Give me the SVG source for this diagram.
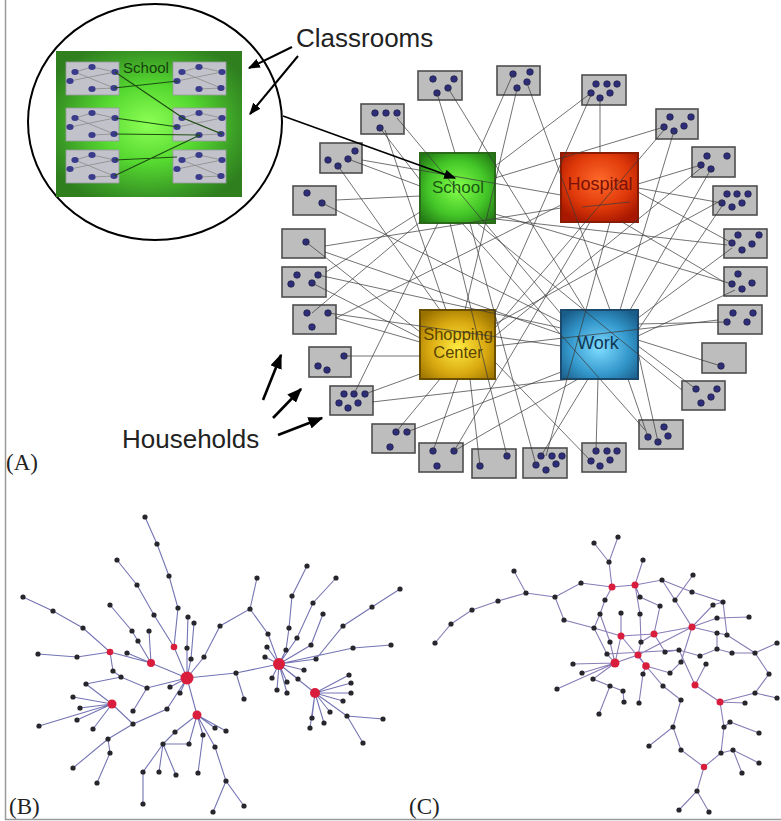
<svg xmlns="http://www.w3.org/2000/svg" xmlns:xlink="http://www.w3.org/1999/xlink" width="781" height="821" viewBox="0 0 781 821">
<defs>
<style>
.hh{fill:#bdbdbd;stroke:#4e4e4e;stroke-width:1.6}
.d{fill:#2d2d78;stroke:#15153a;stroke-width:.6}
.cn{stroke:#3a3a3a;stroke-width:.9;fill:none;opacity:.8}
.cl{fill:#c2c2ca;stroke:#9a9aa2;stroke-width:.8}
.cd{fill:#3b3b8c}
.ci{stroke:#8c8c8c;stroke-width:.8;fill:none}
.cg{stroke:#1d4f12;stroke-width:1.2;fill:none}
.lbl{font-family:"Liberation Sans",Arial,sans-serif}
.pl{font-family:"Liberation Serif","Times New Roman",serif;font-size:23px;fill:#222}
.eb{stroke:#7474b4;stroke-width:1.1;fill:none}
.ec{stroke:#8a7cb6;stroke-width:1.1;fill:none}
.nb circle{fill:#26262c;r:2.6px}
.nr{fill:#d81e3c}
.ar{stroke:#000;fill:none}
</style>
<radialGradient id="gIn" cx="0.5" cy="0.5" r="0.6">
<stop offset="0" stop-color="#8dff55"/><stop offset="0.45" stop-color="#55d830"/><stop offset="0.8" stop-color="#3a9a25"/><stop offset="1" stop-color="#2f7f1f"/>
</radialGradient>
<radialGradient id="gSc" cx="0.5" cy="0.5" r="0.65">
<stop offset="0" stop-color="#84ff4a"/><stop offset="0.6" stop-color="#44c628"/><stop offset="1" stop-color="#237a14"/>
</radialGradient>
<radialGradient id="gHo" cx="0.5" cy="0.4" r="0.65">
<stop offset="0" stop-color="#ff6a2a"/><stop offset="0.6" stop-color="#e03a0a"/><stop offset="1" stop-color="#a81800"/>
</radialGradient>
<radialGradient id="gSh" cx="0.5" cy="0.55" r="0.65">
<stop offset="0" stop-color="#ffea40"/><stop offset="0.6" stop-color="#d8a810"/><stop offset="1" stop-color="#9a7200"/>
</radialGradient>
<radialGradient id="gWo" cx="0.5" cy="0.55" r="0.65">
<stop offset="0" stop-color="#80dcff"/><stop offset="0.6" stop-color="#3498cc"/><stop offset="1" stop-color="#1a5f8c"/>
</radialGradient>
<marker id="ah" viewBox="0 0 10 8" refX="9" refY="4" markerWidth="12" markerHeight="10" markerUnits="userSpaceOnUse" orient="auto">
<path d="M0 0 L10 4 L0 8 z" fill="#000"/>
</marker>
<marker id="ah2" viewBox="0 0 10 8" refX="9" refY="4" markerWidth="15" markerHeight="12" markerUnits="userSpaceOnUse" orient="auto">
<path d="M0 0 L10 4 L0 8 z" fill="#000"/>
</marker>
<g id="cls">
<rect class="cl" width="53" height="33"/>
<path class="ci" d="M9 10 L26 5 M9 10 L48 26 M4 19 L49 10 M26 27 L48 26 M26 5 L49 10"/>
<ellipse class="cd" cx="9" cy="10" rx="3.6" ry="2.9"/><ellipse class="cd" cx="26" cy="5" rx="3.6" ry="2.9"/><ellipse class="cd" cx="49" cy="10" rx="3.6" ry="2.9"/>
<ellipse class="cd" cx="4" cy="19" rx="3.6" ry="2.9"/><ellipse class="cd" cx="26" cy="27" rx="3.6" ry="2.9"/><ellipse class="cd" cx="48" cy="26" rx="3.6" ry="2.9"/>
</g>
</defs>
<rect width="781" height="821" fill="#fff"/>
<path d="M5.5 0 V819.5 H781" stroke="#9a9a9a" stroke-width="1.5" fill="none"/>

<!-- Inset -->
<g id="inset">
<ellipse cx="155" cy="122" rx="127" ry="118" fill="#fff" stroke="#000" stroke-width="2"/>
<rect x="56" y="51" width="186" height="146" fill="url(#gIn)"/>
<use xlink:href="#cls" x="66" y="62"/>
<use xlink:href="#cls" x="173" y="62"/>
<use xlink:href="#cls" x="66" y="108"/>
<use xlink:href="#cls" x="173" y="108"/>
<use xlink:href="#cls" x="66" y="150"/>
<use xlink:href="#cls" x="173" y="150"/>
<path class="cg" d="M115 72 L183 118 M114 88 L178 81 M115 118 L178 127 M115 134 L200 135 M115 160 L177 157 M114 176 L200 135 M183 118 L222 134"/>
<text class="lbl" x="146" y="73" font-size="15" fill="#163f0c" text-anchor="middle">School</text>
</g>

<!-- Households -->
<g id="h1"><rect class="hh" x="418" y="71" width="44" height="29"/><circle class="d" cx="433" cy="79" r="3.3"/><circle class="d" cx="454" cy="79" r="3.3"/><circle class="d" cx="448" cy="88" r="3.3"/><circle class="d" cx="437" cy="93" r="3.3"/></g>
<g id="h2"><rect class="hh" x="497" y="66" width="43" height="29"/><circle class="d" cx="513" cy="74" r="3.3"/><circle class="d" cx="530" cy="72" r="3.3"/><circle class="d" cx="527" cy="82" r="3.3"/><circle class="d" cx="517" cy="88" r="3.3"/></g>
<g id="h3"><rect class="hh" x="582" y="75" width="44" height="30"/><circle class="d" cx="596" cy="84" r="3.3"/><circle class="d" cx="607" cy="84" r="3.3"/><circle class="d" cx="617" cy="84" r="3.3"/><circle class="d" cx="591" cy="93" r="3.3"/><circle class="d" cx="600" cy="98" r="3.3"/><circle class="d" cx="610" cy="93" r="3.3"/></g>
<g id="h4"><rect class="hh" x="656" y="109" width="42" height="30"/><circle class="d" cx="670" cy="117" r="3.3"/><circle class="d" cx="691" cy="117" r="3.3"/><circle class="d" cx="664" cy="127" r="3.3"/><circle class="d" cx="674" cy="131" r="3.3"/><circle class="d" cx="684" cy="126" r="3.3"/></g>
<g id="h5"><rect class="hh" x="692" y="147" width="43" height="30"/><circle class="d" cx="707" cy="156" r="3.3"/><circle class="d" cx="727" cy="156" r="3.3"/><circle class="d" cx="701" cy="165" r="3.3"/><circle class="d" cx="711" cy="169" r="3.3"/></g>
<g id="h6"><rect class="hh" x="713" y="186" width="44" height="29"/><circle class="d" cx="727" cy="194" r="3.3"/><circle class="d" cx="737" cy="194" r="3.3"/><circle class="d" cx="748" cy="194" r="3.3"/><circle class="d" cx="722" cy="203" r="3.3"/><circle class="d" cx="732" cy="207" r="3.3"/><circle class="d" cx="742" cy="203" r="3.3"/></g>
<g id="h7"><rect class="hh" x="724" y="229" width="43" height="29"/><circle class="d" cx="738" cy="235" r="3.3"/><circle class="d" cx="759" cy="235" r="3.3"/><circle class="d" cx="732" cy="243" r="3.3"/><circle class="d" cx="742" cy="250" r="3.3"/><circle class="d" cx="752" cy="244" r="3.3"/></g>
<g id="h8"><rect class="hh" x="724" y="267" width="43" height="29"/><circle class="d" cx="738" cy="274" r="3.3"/><circle class="d" cx="732" cy="284" r="3.3"/><circle class="d" cx="742" cy="289" r="3.3"/><circle class="d" cx="752" cy="283" r="3.3"/></g>
<g id="h9"><rect class="hh" x="718" y="305" width="44" height="29"/><circle class="d" cx="733" cy="313" r="3.3"/><circle class="d" cx="753" cy="313" r="3.3"/><circle class="d" cx="727" cy="322" r="3.3"/><circle class="d" cx="747" cy="322" r="3.3"/></g>
<g id="h10"><rect class="hh" x="702" y="343" width="44" height="30"/><circle class="d" cx="721" cy="366" r="3.3"/></g>
<g id="h11"><rect class="hh" x="682" y="381" width="43" height="29"/><circle class="d" cx="696" cy="389" r="3.3"/><circle class="d" cx="717" cy="389" r="3.3"/><circle class="d" cx="711" cy="397" r="3.3"/><circle class="d" cx="701" cy="403" r="3.3"/></g>
<g id="h12"><rect class="hh" x="639" y="420" width="44" height="29"/><circle class="d" cx="664" cy="427" r="3.3"/><circle class="d" cx="668" cy="436" r="3.3"/><circle class="d" cx="658" cy="442" r="3.3"/><circle class="d" cx="648" cy="437" r="3.3"/></g>
<g id="h13"><rect class="hh" x="582" y="443" width="44" height="29"/><circle class="d" cx="596" cy="451" r="3.3"/><circle class="d" cx="607" cy="451" r="3.3"/><circle class="d" cx="617" cy="451" r="3.3"/><circle class="d" cx="591" cy="461" r="3.3"/><circle class="d" cx="600" cy="466" r="3.3"/><circle class="d" cx="610" cy="460" r="3.3"/></g>
<g id="h14"><rect class="hh" x="523" y="448" width="44" height="30"/><circle class="d" cx="541" cy="456" r="3.3"/><circle class="d" cx="552" cy="456" r="3.3"/><circle class="d" cx="562" cy="456" r="3.3"/><circle class="d" cx="536" cy="465" r="3.3"/><circle class="d" cx="546" cy="470" r="3.3"/><circle class="d" cx="556" cy="464" r="3.3"/></g>
<g id="h15"><rect class="hh" x="472" y="449" width="44" height="29"/><circle class="d" cx="507" cy="456" r="3.3"/><circle class="d" cx="480" cy="466" r="3.3"/></g>
<g id="h16"><rect class="hh" x="419" y="443" width="44" height="29"/><circle class="d" cx="433" cy="451" r="3.3"/><circle class="d" cx="454" cy="451" r="3.3"/><circle class="d" cx="437" cy="466" r="3.3"/></g>
<g id="h17"><rect class="hh" x="372" y="424" width="43" height="29"/><circle class="d" cx="396" cy="432" r="3.3"/><circle class="d" cx="407" cy="432" r="3.3"/><circle class="d" cx="390" cy="447" r="3.3"/></g>
<g id="h18"><rect class="hh" x="330" y="386" width="43" height="29"/><circle class="d" cx="344" cy="394" r="3.3"/><circle class="d" cx="354" cy="394" r="3.3"/><circle class="d" cx="365" cy="394" r="3.3"/><circle class="d" cx="339" cy="403" r="3.3"/><circle class="d" cx="348" cy="408" r="3.3"/><circle class="d" cx="358" cy="403" r="3.3"/></g>
<g id="h19"><rect class="hh" x="309" y="347" width="42" height="30"/><circle class="d" cx="344" cy="356" r="3.3"/><circle class="d" cx="318" cy="366" r="3.3"/><circle class="d" cx="327" cy="370" r="3.3"/></g>
<g id="h20"><rect class="hh" x="293" y="305" width="43" height="29"/><circle class="d" cx="307" cy="313" r="3.3"/><circle class="d" cx="328" cy="313" r="3.3"/><circle class="d" cx="312" cy="327" r="3.3"/></g>
<g id="h21"><rect class="hh" x="282" y="267" width="44" height="30"/><circle class="d" cx="297" cy="275" r="3.3"/><circle class="d" cx="318" cy="275" r="3.3"/><circle class="d" cx="291" cy="284" r="3.3"/><circle class="d" cx="312" cy="283" r="3.3"/></g>
<g id="h22"><rect class="hh" x="282" y="229" width="43" height="29"/><circle class="d" cx="306" cy="242" r="3.3"/></g>
<g id="h23"><rect class="hh" x="293" y="186" width="43" height="29"/><circle class="d" cx="307" cy="193" r="3.3"/><circle class="d" cx="322" cy="203" r="3.3"/></g>
<g id="h24"><rect class="hh" x="320" y="143" width="42" height="30"/><circle class="d" cx="355" cy="151" r="3.3"/><circle class="d" cx="348" cy="159" r="3.3"/><circle class="d" cx="338" cy="166" r="3.3"/><circle class="d" cx="328" cy="160" r="3.3"/></g>
<g id="h25"><rect class="hh" x="361" y="104" width="43" height="30"/><circle class="d" cx="375" cy="113" r="3.3"/><circle class="d" cx="386" cy="113" r="3.3"/><circle class="d" cx="397" cy="113" r="3.3"/><circle class="d" cx="380" cy="128" r="3.3"/></g>

<!-- Facilities -->
<g id="school"><rect x="420" y="153" width="75" height="70" fill="url(#gSc)" stroke="#2a6a1a" stroke-width="2"/><text class="lbl" x="458" y="193" font-size="17" fill="#1a5a12" text-anchor="middle">School</text></g>
<g id="hospital"><rect x="561" y="153" width="77" height="69" fill="url(#gHo)" stroke="#8a1a00" stroke-width="2"/><text class="lbl" x="600" y="190" font-size="18" fill="#7a1208" text-anchor="middle">Hospital</text></g>
<g id="shopping"><rect x="420" y="310" width="75" height="69" fill="url(#gSh)" stroke="#6a5000" stroke-width="2"/><text class="lbl" x="458" y="340" font-size="16.5" fill="#5a4400" text-anchor="middle">Shopping</text><text class="lbl" x="458" y="358" font-size="16.5" fill="#5a4400" text-anchor="middle">Center</text></g>
<g id="work"><rect x="561" y="310" width="77" height="69" fill="url(#gWo)" stroke="#1a4a70" stroke-width="2"/><text class="lbl" x="598" y="349" font-size="18" fill="#0f3652" text-anchor="middle">Work</text></g>

<!-- Connectors -->
<g id="connectors">
<path class="cn" d="M437 93 L455 153 M448 88 L585 310 M517 89 L465 310 M527 83 L610 310 M513 74 L478 153 M600 98 L600 153 M591 93 L495 166 M591 95 L495 313 M664 127 L495 178 M674 131 L620 310 M664 130 L495 328 M701 165 L638 184 M711 169 L630 310 M701 168 L495 336 M722 203 L638 188 M722 206 L638 330 M732 243 L638 192 M727 245 L495 219 M732 284 L495 214 M724 282 L622 222 M727 322 L638 324 M718 320 L495 346 M721 366 L638 340 M696 389 L638 346 M682 390 L477 223 M648 437 L628 379 M658 442 L638 352 M645 430 L462 223 M596 451 L598 379 M591 461 L495 362 M541 456 L588 379 M536 465 L470 223 M546 456 L610 222 M480 466 L470 379 M507 456 L450 223 M433 451 L458 379 M454 451 L578 379 M396 432 L440 379 M407 432 L561 372 M365 394 L420 374 M354 394 L438 223 M372 402 L572 379 M344 356 L420 356 M336 318 L420 342 M328 313 L561 346 M312 313 L420 222 M312 283 L420 338 M318 275 L561 328 M326 272 L420 212 M306 242 L420 332 M325 246 L561 208 M325 252 L561 334 M322 203 L561 322 M336 200 L420 196 M348 159 L420 186 M338 166 L440 310 M380 128 L420 180 M385 130 L446 310 M397 118 L561 314 M722 200 L495 324 M732 248 L638 318 M735 290 L638 336 M561 195 L362 160 M561 205 L336 318 M590 222 L454 451 M582 207 L630 202"/>
</g>

<!-- Annotation arrows and labels -->
<g id="annotations">
<path class="ar" stroke-width="1.6" d="M283 116 L455 178" marker-end="url(#ah)"/>
<path class="ar" stroke-width="2" d="M292 47 L249 68" marker-end="url(#ah)"/>
<path class="ar" stroke-width="2" d="M298 56 L250 114" marker-end="url(#ah)"/>
<path class="ar" stroke-width="2.6" d="M263 400 L281 355" marker-end="url(#ah2)"/>
<path class="ar" stroke-width="2.6" d="M273 418 L301 389" marker-end="url(#ah2)"/>
<path class="ar" stroke-width="2.6" d="M278 435 L322 418" marker-end="url(#ah2)"/>
<text class="lbl" x="296" y="47" font-size="26" fill="#222">Classrooms</text>
<text class="lbl" x="122" y="448" font-size="26" fill="#222">Households</text>
<text class="pl" x="6" y="470">(A)</text>
<text class="pl" x="9" y="814">(B)</text>
<text class="pl" x="409" y="814">(C)</text>
</g>

<!-- Panel B -->
<g id="panelB">
<path class="eb" d="M145 517 L157 544 L169 576 L178 608 L174 647 L187 678 M117 560 L137 585 L154 615 L174 647 M188 617 L187 648 L187 678 M194 623 L191 659 L187 678 M23 597 L53 611 L83 628 L110 652 L151 663 L187 678 M110 605 L132 631 L151 663 M149 631 L151 663 M138 641 L151 663 M127 653 L151 663 M38 654 L77 657 L110 652 M110 652 L113 671 L121 677 M86 684 L121 677 L147 688 L187 678 M112 704 L73 697 M112 704 L80 708 M112 704 L77 720 M112 704 L39 726 M112 704 L93 729 M112 704 L86 684 M112 704 L133 724 L167 709 L187 678 M133 711 L147 688 M73 768 L108 739 L133 724 M97 783 L110 753 L108 739 M143 804 L143 772 L163 744 M159 772 L163 744 M176 775 L163 744 M163 744 L189 744 L197 715 M175 732 L163 744 M187 678 L197 715 M197 715 L215 728 M197 715 L226 731 M197 715 L203 735 M197 715 L175 732 M197 715 L215 747 L226 781 L244 806 M226 781 L213 812 M203 735 L198 773 M187 678 L170 687 M187 678 L180 693 M187 678 L204 657 L220 626 L250 609 L257 578 M250 609 L268 634 L279 664 M187 678 L236 673 L279 664 M236 673 L244 699 M279 664 L267 647 M279 664 L265 657 M279 664 L272 678 M279 664 L277 690 M279 664 L287 693 M279 664 L287 682 M279 664 L298 679 M279 664 L304 670 M279 664 L286 650 L289 628 L292 596 L307 566 M279 664 L297 638 L313 603 L336 578 M279 664 L311 645 L323 614 M279 664 L316 659 L343 626 L372 607 L400 589 M279 664 L353 648 L391 645 M279 664 L315 693 M315 693 L349 675 M315 693 L351 683 M315 693 L351 693 M315 693 L343 701 M315 693 L330 712 M315 693 L347 716 M315 693 L324 723 M315 693 L310 728 M315 693 L312 718 M347 716 L383 719 M347 716 L363 743"/>
<g class="nb">
<circle cx="145" cy="517" r="2.6"/><circle cx="157" cy="544" r="2.6"/><circle cx="169" cy="576" r="2.6"/><circle cx="178" cy="608" r="2.6"/><circle cx="117" cy="560" r="2.6"/><circle cx="137" cy="585" r="2.6"/><circle cx="154" cy="615" r="2.6"/><circle cx="188" cy="617" r="2.6"/><circle cx="194" cy="623" r="2.6"/><circle cx="187" cy="648" r="2.6"/><circle cx="191" cy="659" r="2.6"/><circle cx="23" cy="597" r="2.6"/><circle cx="53" cy="611" r="2.6"/><circle cx="83" cy="628" r="2.6"/><circle cx="110" cy="605" r="2.6"/><circle cx="132" cy="631" r="2.6"/><circle cx="138" cy="641" r="2.6"/><circle cx="149" cy="631" r="2.6"/><circle cx="127" cy="653" r="2.6"/><circle cx="38" cy="654" r="2.6"/><circle cx="77" cy="657" r="2.6"/><circle cx="113" cy="671" r="2.6"/><circle cx="121" cy="677" r="2.6"/><circle cx="147" cy="688" r="2.6"/><circle cx="86" cy="684" r="2.6"/><circle cx="73" cy="697" r="2.6"/><circle cx="80" cy="708" r="2.6"/><circle cx="77" cy="720" r="2.6"/><circle cx="39" cy="726" r="2.6"/><circle cx="93" cy="729" r="2.6"/><circle cx="133" cy="711" r="2.6"/><circle cx="133" cy="724" r="2.6"/><circle cx="167" cy="709" r="2.6"/><circle cx="108" cy="739" r="2.6"/><circle cx="110" cy="753" r="2.6"/><circle cx="73" cy="768" r="2.6"/><circle cx="97" cy="783" r="2.6"/><circle cx="163" cy="744" r="2.6"/><circle cx="189" cy="744" r="2.6"/><circle cx="175" cy="732" r="2.6"/><circle cx="143" cy="772" r="2.6"/><circle cx="159" cy="772" r="2.6"/><circle cx="176" cy="775" r="2.6"/><circle cx="143" cy="804" r="2.6"/><circle cx="170" cy="687" r="2.6"/><circle cx="180" cy="693" r="2.6"/><circle cx="198" cy="773" r="2.6"/><circle cx="215" cy="728" r="2.6"/><circle cx="226" cy="731" r="2.6"/><circle cx="203" cy="735" r="2.6"/><circle cx="215" cy="747" r="2.6"/><circle cx="226" cy="781" r="2.6"/><circle cx="244" cy="806" r="2.6"/><circle cx="213" cy="812" r="2.6"/><circle cx="204" cy="657" r="2.6"/><circle cx="220" cy="626" r="2.6"/><circle cx="250" cy="609" r="2.6"/><circle cx="257" cy="578" r="2.6"/><circle cx="268" cy="634" r="2.6"/><circle cx="236" cy="673" r="2.6"/><circle cx="244" cy="699" r="2.6"/><circle cx="267" cy="647" r="2.6"/><circle cx="265" cy="657" r="2.6"/><circle cx="272" cy="678" r="2.6"/><circle cx="277" cy="690" r="2.6"/><circle cx="287" cy="693" r="2.6"/><circle cx="287" cy="682" r="2.6"/><circle cx="298" cy="679" r="2.6"/><circle cx="304" cy="670" r="2.6"/><circle cx="286" cy="650" r="2.6"/><circle cx="289" cy="628" r="2.6"/><circle cx="292" cy="596" r="2.6"/><circle cx="307" cy="566" r="2.6"/><circle cx="297" cy="638" r="2.6"/><circle cx="313" cy="603" r="2.6"/><circle cx="336" cy="578" r="2.6"/><circle cx="311" cy="645" r="2.6"/><circle cx="323" cy="614" r="2.6"/><circle cx="316" cy="659" r="2.6"/><circle cx="343" cy="626" r="2.6"/><circle cx="372" cy="607" r="2.6"/><circle cx="400" cy="589" r="2.6"/><circle cx="353" cy="648" r="2.6"/><circle cx="391" cy="645" r="2.6"/><circle cx="349" cy="675" r="2.6"/><circle cx="351" cy="683" r="2.6"/><circle cx="351" cy="693" r="2.6"/><circle cx="343" cy="701" r="2.6"/><circle cx="330" cy="712" r="2.6"/><circle cx="347" cy="716" r="2.6"/><circle cx="324" cy="723" r="2.6"/><circle cx="310" cy="728" r="2.6"/><circle cx="312" cy="718" r="2.6"/><circle cx="383" cy="719" r="2.6"/><circle cx="363" cy="743" r="2.6"/>
</g>
<g class="nr">
<circle cx="187" cy="678" r="6.5"/><circle cx="279" cy="664" r="6"/><circle cx="315" cy="693" r="5"/><circle cx="112" cy="704" r="4.5"/><circle cx="197" cy="715" r="4.5"/><circle cx="151" cy="663" r="4"/><circle cx="174" cy="647" r="3.3"/><circle cx="110" cy="652" r="3.3"/>
</g>
</g>

<!-- Panel C -->
<g id="panelC">
<path class="ec" d="M435 643 L451 624 L472 610 L498 601 L526 593 L555 597 L564 620 L594 628 M514 571 L526 593 M555 597 L581 583 L612 587 M594 543 L609 562 L618 537 M609 562 L612 587 M612 587 L635 585 L643 560 M635 585 L640 597 L660 606 L654 634 M612 587 L605 600 L600 614 L594 628 M635 585 L662 580 L675 600 L693 575 M662 580 L692 592 L723 602 L727 635 M675 600 L692 627 L713 605 L723 602 M621 613 L621 636 M635 585 L640 614 L641 642 M594 628 L621 636 L654 634 L692 627 M692 627 L717 618 L749 617 M692 627 L717 633 L727 635 L755 653 L769 674 L755 693 L720 702 M755 653 L777 643 M755 693 L777 698 M654 634 L665 652 L679 650 L700 656 L717 649 L732 653 L755 653 M654 634 L641 642 L638 655 M621 636 L615 663 M594 628 L607 654 L615 663 M600 614 L610 642 L615 663 M615 663 L638 655 L646 666 M615 663 L573 664 M615 663 L582 673 M615 663 L557 689 M615 663 L593 679 L610 686 L623 691 L624 702 M599 714 L610 686 M646 666 L643 674 L639 703 M646 666 L663 686 L681 700 L673 727 L681 750 L704 767 M646 666 L670 673 L681 662 L692 627 M679 650 L695 685 L706 664 M695 685 L720 702 M717 633 L717 649 M673 727 L649 746 M720 702 L724 727 L721 753 L704 767 M724 727 L730 722 L759 733 M720 702 L745 703 M721 753 L733 750 L759 763 M733 750 L742 773 M704 767 L697 791 L679 810 M697 791 L709 812 M607 654 L679 650 M638 655 L692 627 M621 636 L646 666"/>
<g class="nb">
<circle cx="435" cy="643" r="2.6"/><circle cx="451" cy="624" r="2.6"/><circle cx="472" cy="610" r="2.6"/><circle cx="498" cy="601" r="2.6"/><circle cx="526" cy="593" r="2.6"/><circle cx="514" cy="571" r="2.6"/><circle cx="555" cy="597" r="2.6"/><circle cx="564" cy="620" r="2.6"/><circle cx="581" cy="583" r="2.6"/><circle cx="594" cy="628" r="2.6"/><circle cx="594" cy="543" r="2.6"/><circle cx="618" cy="537" r="2.6"/><circle cx="609" cy="562" r="2.6"/><circle cx="643" cy="560" r="2.6"/><circle cx="640" cy="597" r="2.6"/><circle cx="662" cy="580" r="2.6"/><circle cx="693" cy="575" r="2.6"/><circle cx="675" cy="600" r="2.6"/><circle cx="692" cy="592" r="2.6"/><circle cx="660" cy="606" r="2.6"/><circle cx="723" cy="602" r="2.6"/><circle cx="713" cy="605" r="2.6"/><circle cx="605" cy="600" r="2.6"/><circle cx="600" cy="614" r="2.6"/><circle cx="621" cy="613" r="2.6"/><circle cx="640" cy="614" r="2.6"/><circle cx="749" cy="617" r="2.6"/><circle cx="717" cy="618" r="2.6"/><circle cx="717" cy="633" r="2.6"/><circle cx="727" cy="635" r="2.6"/><circle cx="641" cy="642" r="2.6"/><circle cx="610" cy="642" r="2.6"/><circle cx="679" cy="650" r="2.6"/><circle cx="665" cy="652" r="2.6"/><circle cx="607" cy="654" r="2.6"/><circle cx="573" cy="664" r="2.6"/><circle cx="582" cy="673" r="2.6"/><circle cx="593" cy="679" r="2.6"/><circle cx="557" cy="689" r="2.6"/><circle cx="610" cy="686" r="2.6"/><circle cx="623" cy="691" r="2.6"/><circle cx="624" cy="702" r="2.6"/><circle cx="639" cy="703" r="2.6"/><circle cx="599" cy="714" r="2.6"/><circle cx="643" cy="674" r="2.6"/><circle cx="670" cy="673" r="2.6"/><circle cx="681" cy="662" r="2.6"/><circle cx="663" cy="686" r="2.6"/><circle cx="706" cy="664" r="2.6"/><circle cx="700" cy="656" r="2.6"/><circle cx="717" cy="649" r="2.6"/><circle cx="732" cy="653" r="2.6"/><circle cx="755" cy="653" r="2.6"/><circle cx="769" cy="674" r="2.6"/><circle cx="755" cy="693" r="2.6"/><circle cx="777" cy="643" r="2.6"/><circle cx="777" cy="698" r="2.6"/><circle cx="745" cy="703" r="2.6"/><circle cx="681" cy="700" r="2.6"/><circle cx="673" cy="727" r="2.6"/><circle cx="649" cy="746" r="2.6"/><circle cx="681" cy="750" r="2.6"/><circle cx="724" cy="727" r="2.6"/><circle cx="730" cy="722" r="2.6"/><circle cx="759" cy="733" r="2.6"/><circle cx="733" cy="750" r="2.6"/><circle cx="721" cy="753" r="2.6"/><circle cx="759" cy="763" r="2.6"/><circle cx="742" cy="773" r="2.6"/><circle cx="697" cy="791" r="2.6"/><circle cx="679" cy="810" r="2.6"/><circle cx="709" cy="812" r="2.6"/>
</g>
<g class="nr">
<circle cx="612" cy="587" r="3.5"/><circle cx="635" cy="585" r="3.5"/><circle cx="692" cy="627" r="3.5"/><circle cx="621" cy="636" r="3.5"/><circle cx="654" cy="634" r="3.5"/><circle cx="638" cy="655" r="3.5"/><circle cx="615" cy="663" r="4.5"/><circle cx="646" cy="666" r="3.8"/><circle cx="695" cy="685" r="3.5"/><circle cx="720" cy="702" r="3.5"/><circle cx="704" cy="767" r="3.2"/>
</g>
</g>
</svg>
